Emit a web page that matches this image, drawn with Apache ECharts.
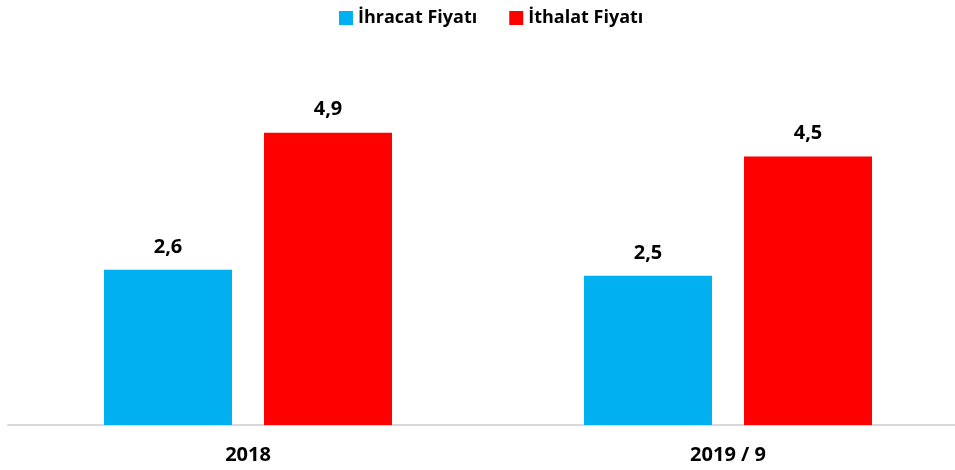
<!DOCTYPE html>
<html>
<head>
<meta charset="utf-8">
<script src="https://cdn.jsdelivr.net/npm/echarts@6/dist/echarts.min.js"></script>
<style>
	html, body { margin: 0; padding: 0; background: #fff; overflow: hidden; }
	#chart { width: 968px; height: 470px; }
</style>
</head>
<body>
<div id="chart"></div>
<script>
	// kategoriler ve seriler
	var categories = ['2018', '2019 / 9'];
	var ihracat = [2.6, 2.5];
	var ithalat = [4.9, 4.5];

	var fontFam = '"Open Sans", "Liberation Sans", sans-serif';

	function virgul(p) {
		return String(p.value.toFixed(1)).replace('.', ',');
	}

	var chart = echarts.init(document.getElementById('chart'));
	chart.setOption({
		animation: false,
		legend: {
			top: 4,
			left: 334,
			itemWidth: 14,
			itemHeight: 14,
			itemGap: 32,
			icon: 'rect',
			textStyle: { fontFamily: fontFam, fontWeight: 'bold', fontSize: 18, color: '#000' }
		},
		grid: {
			left: 8,
			right: 0,
			top: 67,
			bottom: 45
		},
		xAxis: {
			type: 'category',
			data: categories,
			axisLine: { lineStyle: { color: '#d9d9d9', width: 2 } },
			axisTick: { show: false },
			axisLabel: {
				margin: 20,
				color: '#000',
				fontFamily: fontFam,
				fontWeight: 'bold',
				fontSize: 20
			}
		},
		yAxis: {
			type: 'value',
			min: 0,
			max: 6,
			show: false,
			splitLine: { show: false }
		},
		series: [
			{
				name: 'İhracat Fiyatı',
				type: 'bar',
				data: ihracat,
				barWidth: 128,
				barGap: '25%',
				itemStyle: { color: '#00b0f0' },
				label: {
					show: true,
					position: 'top',
					distance: 13,
					formatter: virgul,
					color: '#000',
					fontFamily: fontFam,
					fontWeight: 'bold',
					fontSize: 20
				}
			},
			{
				name: 'İthalat Fiyatı',
				type: 'bar',
				data: ithalat,
				barWidth: 128,
				barGap: '25%',
				itemStyle: { color: '#ff0000' },
				label: {
					show: true,
					position: 'top',
					distance: 13,
					formatter: virgul,
					color: '#000',
					fontFamily: fontFam,
					fontWeight: 'bold',
					fontSize: 20
				}
			}
		]
	});
</script>
</body>
</html>
